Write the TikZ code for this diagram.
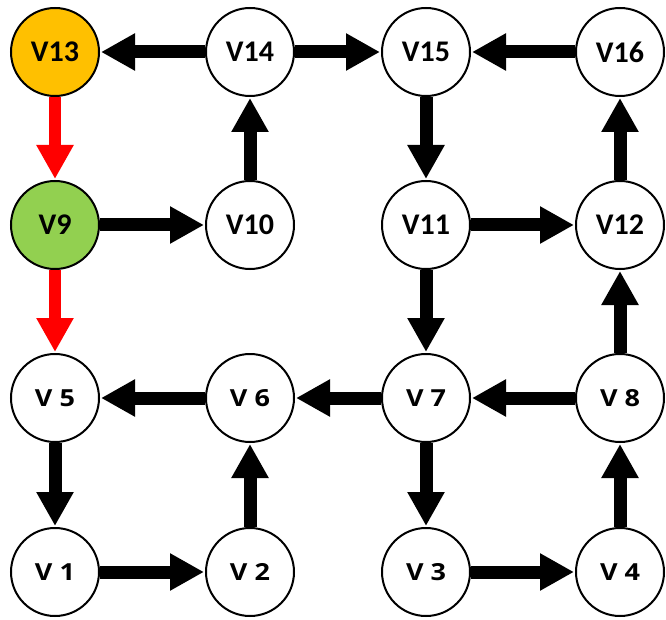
\documentclass[tikz,border=0pt]{standalone}
\usepackage{fontspec}
\setmainfont{Carlito}
\newfontfamily\widefont[FakeStretch=1.15]{Open Sans}
\usetikzlibrary{arrows.meta}
\definecolor{startfill}{HTML}{FFC000}
\definecolor{midfill}{HTML}{92D050}
\definecolor{pathred}{HTML}{FF0000}
\tikzset{
  vert/.style={circle, draw=black, line width=2pt, fill=white,
    minimum size=88pt, inner sep=0pt, font=\fontsize{30}{32}\selectfont\bfseries},
  lowvert/.style={vert, font=\widefont\bfseries\fontsize{23.5}{26}\selectfont},
  edge/.style={line width=13pt, draw=black,
    -{Triangle[width=35pt,length=34pt]}, shorten >=1pt},
  redge/.style={edge, draw=pathred, line width=12pt},
}
\begin{document}
\begin{tikzpicture}[x=1pt,y=-1pt]
\useasboundingbox (0,0) rectangle (666,620);
% grid of vertices
\node[vert, fill=startfill] (v13) at (55,52) {V13};
\node[vert] (v14) at (250,52) {V14};
\node[vert] (v15) at (426,52) {V15};
\node[vert] (v16) at (620,52) {V16};
\node[vert, fill=midfill] (v9) at (55,225) {V9};
\node[vert] (v10) at (250,225) {V10};
\node[vert] (v11) at (426,225) {V11};
\node[vert] (v12) at (620,225) {V12};
\node[lowvert] (v5) at (55,398) {V 5};
\node[lowvert] (v6) at (250,398) {V 6};
\node[lowvert] (v7) at (426,398) {V 7};
\node[lowvert] (v8) at (620,398) {V 8};
\node[lowvert] (v1) at (55,572) {V 1};
\node[lowvert] (v2) at (250,572) {V 2};
\node[lowvert] (v3) at (426,572) {V 3};
\node[lowvert] (v4) at (620,572) {V 4};
% directed edges
\draw[edge] (v14) -- (v13);
\draw[edge] (v14) -- (v15);
\draw[edge] (v16) -- (v15);
\draw[edge] (v10) -- (v14);
\draw[edge] (v15) -- (v11);
\draw[edge] (v12) -- (v16);
\draw[edge] (v9) -- (v10);
\draw[edge] (v11) -- (v12);
\draw[edge] (v11) -- (v7);
\draw[edge] (v8) -- (v12);
\draw[edge] (v6) -- (v5);
\draw[edge] (v7) -- (v6);
\draw[edge] (v8) -- (v7);
\draw[edge] (v5) -- (v1);
\draw[edge] (v2) -- (v6);
\draw[edge] (v7) -- (v3);
\draw[edge] (v4) -- (v8);
\draw[edge] (v1) -- (v2);
\draw[edge] (v3) -- (v4);
% highlighted path
\draw[redge] (v13) -- (v9);
\draw[redge] (v9) -- (v5);
\end{tikzpicture}
\end{document}
